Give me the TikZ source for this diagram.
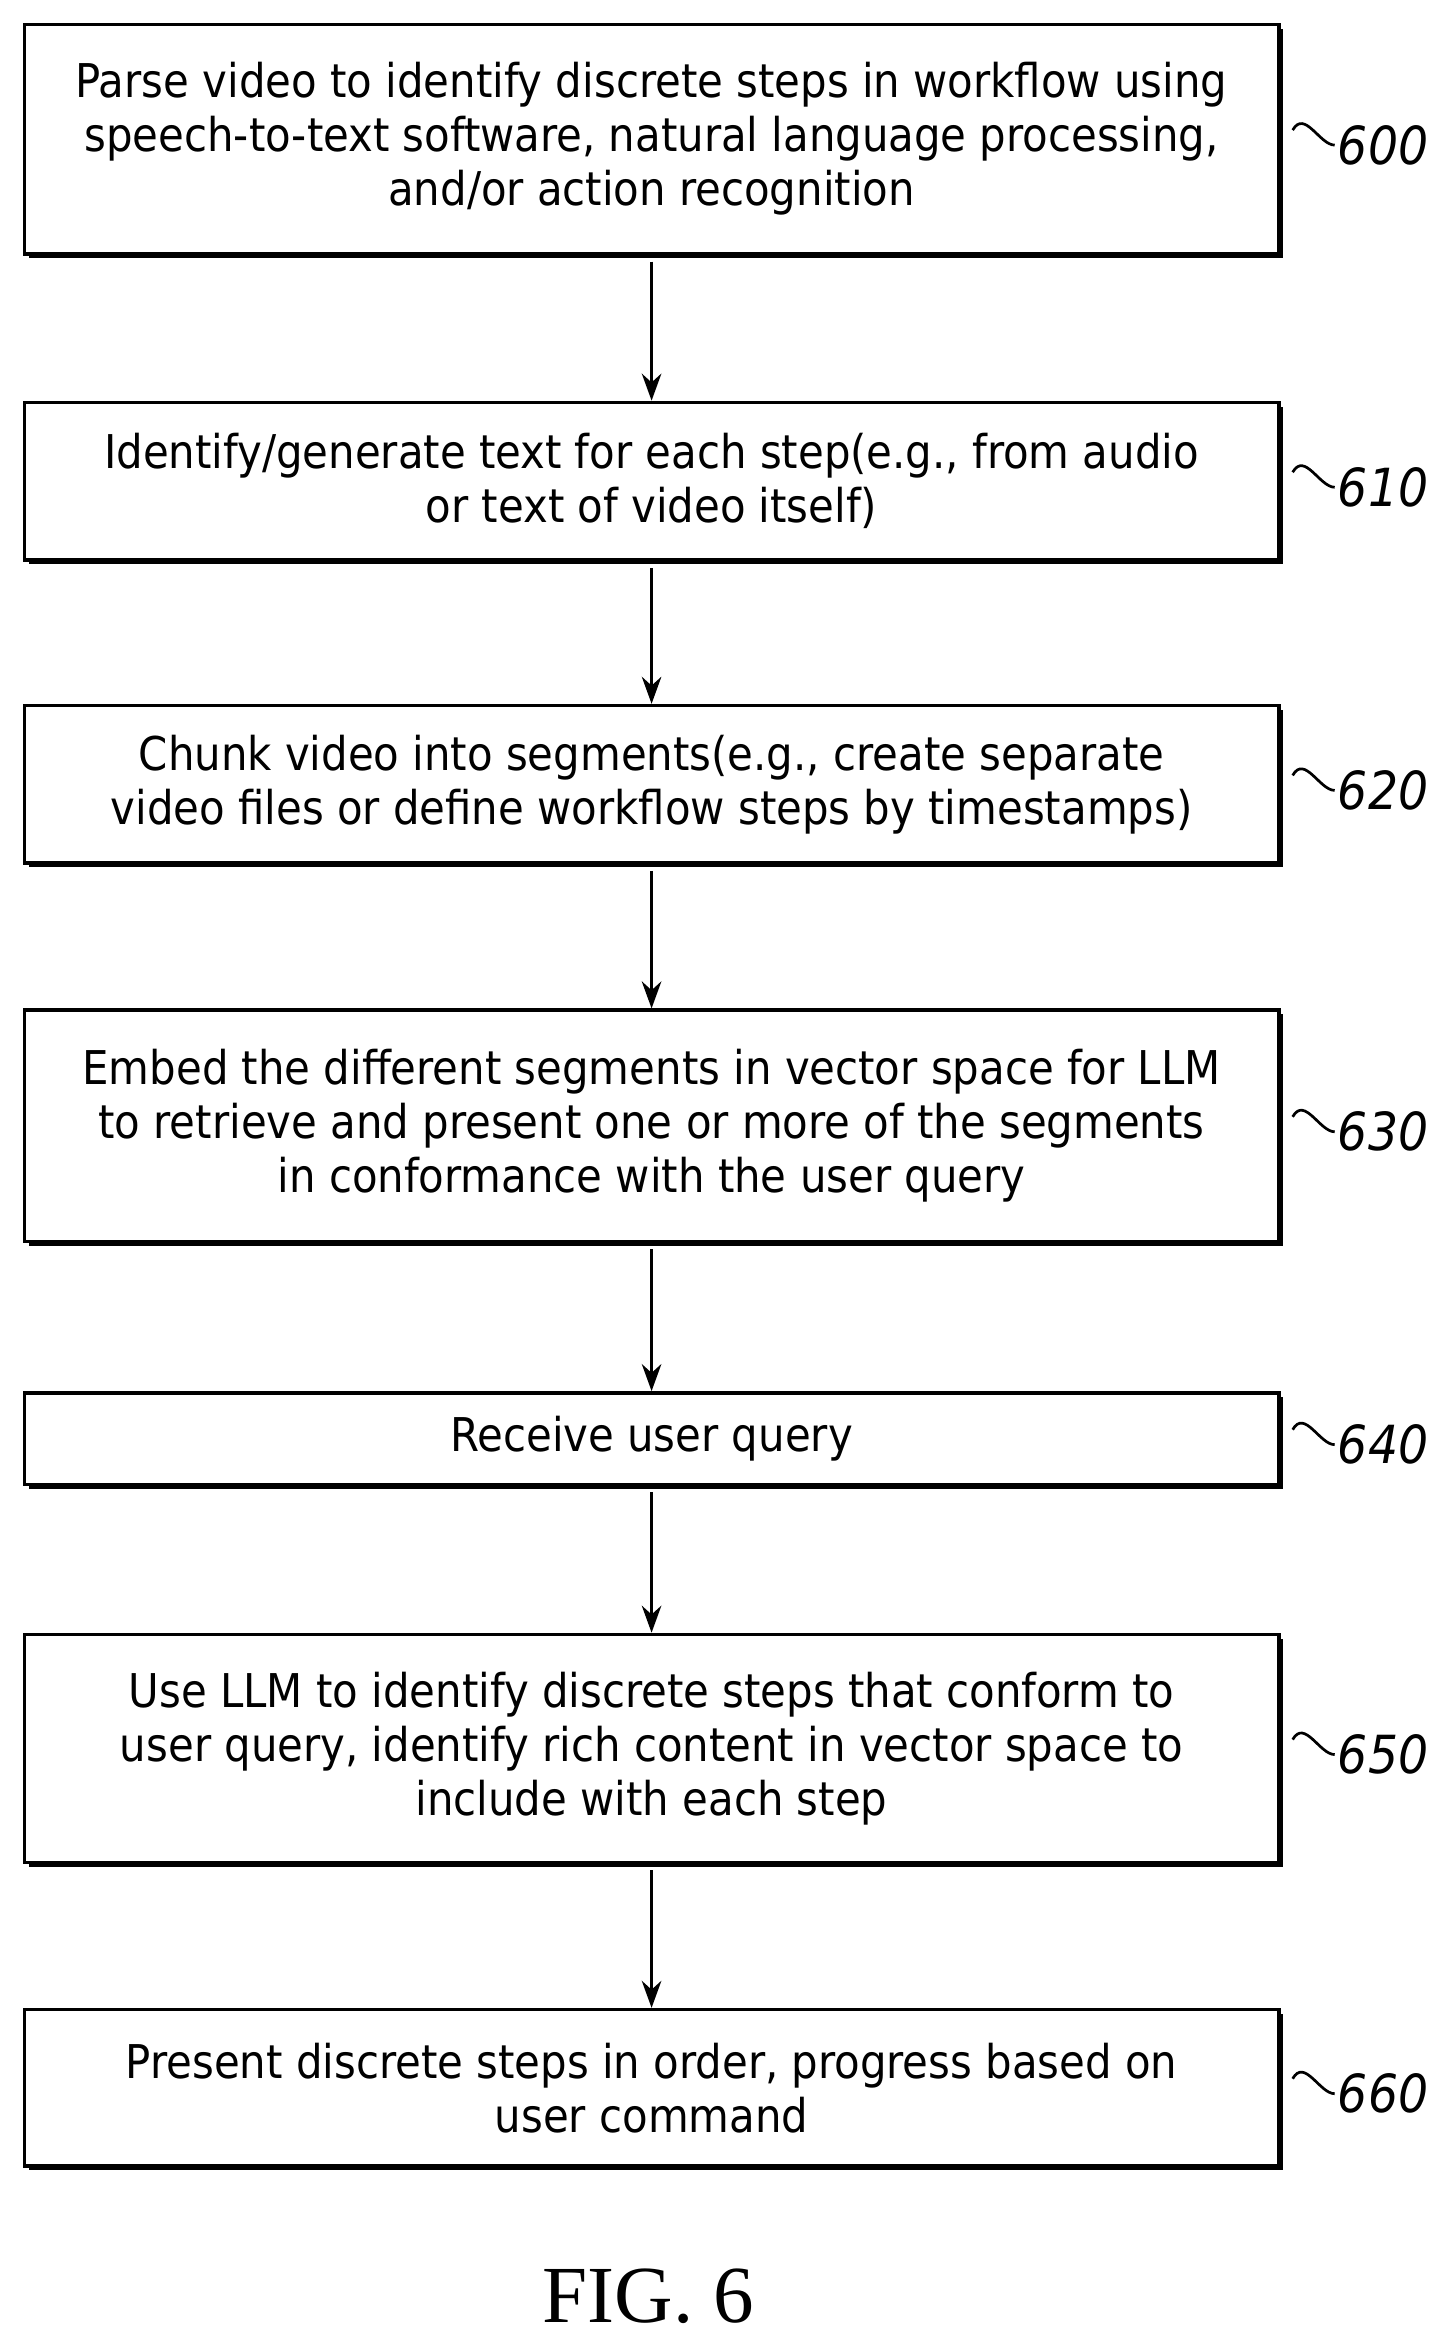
\documentclass[tikz,border=0pt]{standalone}
\usepackage{fontspec}
\setmainfont{DejaVu Sans Condensed}
\newfontfamily\figfont{Liberation Serif}
\usetikzlibrary{arrows.meta}
\begin{document}
\begin{tikzpicture}[x=1pt,y=-1pt,
  stepbox/.style={draw,line width=2.4pt,minimum width=836pt,anchor=north west,align=center,font=\fontsize{31}{36}\selectfont,inner sep=0pt},
  lab/.style={font=\itshape\fontsize{35}{40}\selectfont,anchor=west,inner sep=0pt},
  arr/.style={-{Stealth[length=18pt,width=13pt]},line width=2pt}]
\useasboundingbox (0,0) rectangle (967,1564);
\def\bx#1#2#3#4{%
  \fill (19,#2+4) rectangle (855,#3+4);
  \node[stepbox,fill=white,minimum height=#3-#2] (#1) at (15,#2) {#4};}
\bx{a}{15}{168}{Parse video to identify discrete steps in workflow using\\speech-to-text software, natural language processing,\\and/or action recognition}
\bx{b}{267}{372}{Identify/generate text for each step(e.g., from audio\\or text of video itself)}
\bx{c}{469}{574}{Chunk video into segments(e.g., create separate\\video files or define workflow steps by timestamps)}
\bx{d}{672}{826}{Embed the different segments in vector space for LLM\\to retrieve and present one or more of the segments\\in conformance with the user query}
\bx{e}{927}{988}{Receive user query}
\bx{f}{1088}{1240}{Use LLM to identify discrete steps that conform to\\user query, identify rich content in vector space to\\include with each step}
\bx{g}{1338}{1442}{Present discrete steps in order, progress based on\\user command}
\foreach \p/\q in {a/b,b/c,c/d,d/e,e/f,f/g}{\draw[arr] ([yshift=-4pt]\p.south) -- (\q.north);}
\foreach \n/\t in {a/600,b/610,c/620,d/630,e/640,f/650,g/660}{
  \draw[line width=1.8pt] ([xshift=8pt,yshift=6pt]\n.east) .. controls +(8,-14) and +(-10,0) .. ([xshift=36pt,yshift=-4pt]\n.east);
  \node[lab] (l\t) at ([xshift=38pt,yshift=-4pt]\n.east) {\t};}
\node[font=\figfont\fontsize{54}{60}\selectfont] (fig) at (432,1530) {FIG. 6};
\end{tikzpicture}
\end{document}
